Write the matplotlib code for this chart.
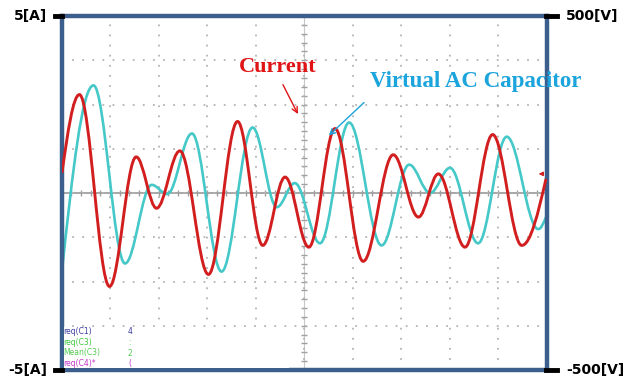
import numpy as np
import matplotlib
matplotlib.use("Agg")
from matplotlib import pyplot as plt
from matplotlib.lines import Line2D
from matplotlib.patches import Rectangle, PathPatch
from matplotlib.path import Path

# turning points of each trace
# time in screen divisions, current in A, capacitor voltage in V
time_current = [0.01, 0.37, 0.99, 1.54, 1.96, 2.44, 3.03, 3.63, 4.15, 4.61,
                5.10, 5.64, 6.22, 6.84, 7.36, 7.77, 8.32, 8.89, 9.49, 9.99]
current = [0.57, 2.78, -2.64, 1.02, -0.43, 1.19, -2.30, 2.02, -1.48, 0.45,
           -1.53, 1.82, -1.93, 1.08, -0.68, 0.54, -1.53, 1.65, -1.48, 0.40]

time_voltage = [0.01, 0.66, 1.31, 1.86, 2.18, 2.69, 3.30, 3.94, 4.44, 4.81,
                5.33, 5.93, 6.60, 7.17, 7.60, 8.01, 8.59, 9.18, 9.83, 9.99]
voltage = [-219, 304, -199, 23, -3, 168, -222, 185, -40, 28,
           -142, 199, -148, 80, 0, 71, -142, 159, -102, -68]

meas_labels = ["req(C1)", "req(C3)", "Mean(C3)", "req(C4)*"]
meas_values = ["4", ":", "2", "("]
meas_colors = ["#3c3c9c", "#3ec83e", "#52cc52", "#c434c4"]

W, H = 632, 383
frame_col = "#3b5e8c"
red = "#d21e1e"
cyan = "#45c8c8"


def wave_path(t, v):
    # smooth bezier through the turning points, flat at each peak/valley
    verts = [(t[0], v[0])]
    n = len(t)
    for i in range(n - 1):
        dt = t[i + 1] - t[i]
        if i == 0:
            c1 = (t[i] + dt * 0.33, v[i] + (v[i + 1] - v[i]) * 0.52)
        else:
            c1 = (t[i] + dt * 0.36, v[i])
        if i == n - 2:
            c2 = (t[i + 1] - dt * 0.33, v[i + 1] - (v[i + 1] - v[i]) * 0.52)
        else:
            c2 = (t[i + 1] - dt * 0.36, v[i + 1])
        verts += [c1, c2, (t[i + 1], v[i + 1])]
    codes = [Path.MOVETO] + [Path.CURVE4] * (3 * (n - 1))
    return Path(verts, codes)


fig = plt.figure(figsize=(W / 100, H / 100), dpi=100)
x0, x1, ytop, ybot = 61.5, 546.5, 16, 370
ax = fig.add_axes([x0 / W, 1 - ybot / H, (x1 - x0) / W, (ybot - ytop) / H])
ax.set_xlim(0, 10)
ax.set_ylim(-500, 500)
ax.set_xticks(np.arange(0, 11))
ax.set_yticks(np.arange(-500, 501, 125))
ax.tick_params(length=0, labelleft=False, labelbottom=False)
ax.grid(True, color="#b4b4b4", ls=(0, (1, 4.6)), lw=1.3)
for s in ax.spines.values():
    s.set_color(frame_col)
    s.set_linewidth(3.2)
    s.set_zorder(10)

# centre crosshair with minor marks
ax.axhline(0, color="#a0a0a0", lw=1.3, zorder=1)
ax.axvline(5, color="#c8c8c8", lw=0.8, zorder=1)
ax.plot(np.arange(0.2, 10, 0.2), np.zeros(49), ls="", marker="|", ms=4,
        color="#a0a0a0", mew=1.0, zorder=1)
ax.plot(np.full(39, 5.0), np.arange(-475, 500, 25), ls="", marker="_", ms=5,
        color="#a0a0a0", mew=1.0, zorder=1)

ax.add_patch(PathPatch(wave_path(time_voltage, voltage), facecolor="none",
                       edgecolor=cyan, lw=1.9, zorder=3))

ax2 = ax.twinx()
ax2.set_ylim(-5, 5)
ax2.set_yticks([])
for s in ax2.spines.values():
    s.set_visible(False)
ax2.add_patch(PathPatch(wave_path(time_current, current), facecolor="none",
                        edgecolor=red, lw=2.1, zorder=4))

# measurement panel in the lower left
ax2.add_patch(Rectangle((0.05, -4.95), 4.65, 1.17, facecolor="white", edgecolor="none", zorder=2))
for k, (lab, val, col) in enumerate(zip(meas_labels, meas_values, meas_colors)):
    yy = 1 - (332 + 10.5 * k) / H
    fig.text(63 / W, yy, lab, fontsize=5.5, color=col, va="center", ha="left")
    fig.text(128 / W, yy, val, fontsize=5.5, color=col, va="center", ha="left")

# annotations
ax2.text(4.46, 3.55, "Current", color="#e01414", fontsize=16, fontweight="bold",
         family="Liberation Serif", ha="center", va="center", zorder=6)
ax2.annotate("", xy=(4.90, 2.16), xytext=(4.54, 3.13), zorder=6,
             arrowprops=dict(arrowstyle="->", color="#e01414", lw=1.0))
ax2.text(8.53, 3.15, "Virtual AC Capacitor", color="#1ca4dc", fontsize=16.5,
         fontweight="bold", family="Liberation Serif", ha="center", va="center",
         clip_on=False, zorder=6)
ax2.annotate("", xy=(5.47, 1.57), xytext=(6.28, 2.61), zorder=6,
             arrowprops=dict(arrowstyle="->", color="#1ca4dc", lw=1.0))
ax2.annotate("", xy=(9.78, 0.54), xytext=(9.97, 0.54), zorder=6,
             arrowprops=dict(arrowstyle="-|>", color=red, lw=0.9, mutation_scale=6))

# corner scale labels
for yy in (ytop, ybot):
    fig.add_artist(Line2D([55 / W, 62 / W], [1 - yy / H] * 2, color="black", lw=3.5))
    fig.add_artist(Line2D([546 / W, 557 / W], [1 - yy / H] * 2, color="black", lw=3.5))
fig.text(47 / W, 1 - ytop / H, "5[A]", fontsize=10, fontweight="bold", ha="right", va="center")
fig.text(47 / W, 1 - ybot / H, "-5[A]", fontsize=10, fontweight="bold", ha="right", va="center")
fig.text(566 / W, 1 - ytop / H, "500[V]", fontsize=10, fontweight="bold", ha="left", va="center")
fig.text(566 / W, 1 - ybot / H, "-500[V]", fontsize=10, fontweight="bold", ha="left", va="center")

fig.savefig("out.png", dpi=100)
